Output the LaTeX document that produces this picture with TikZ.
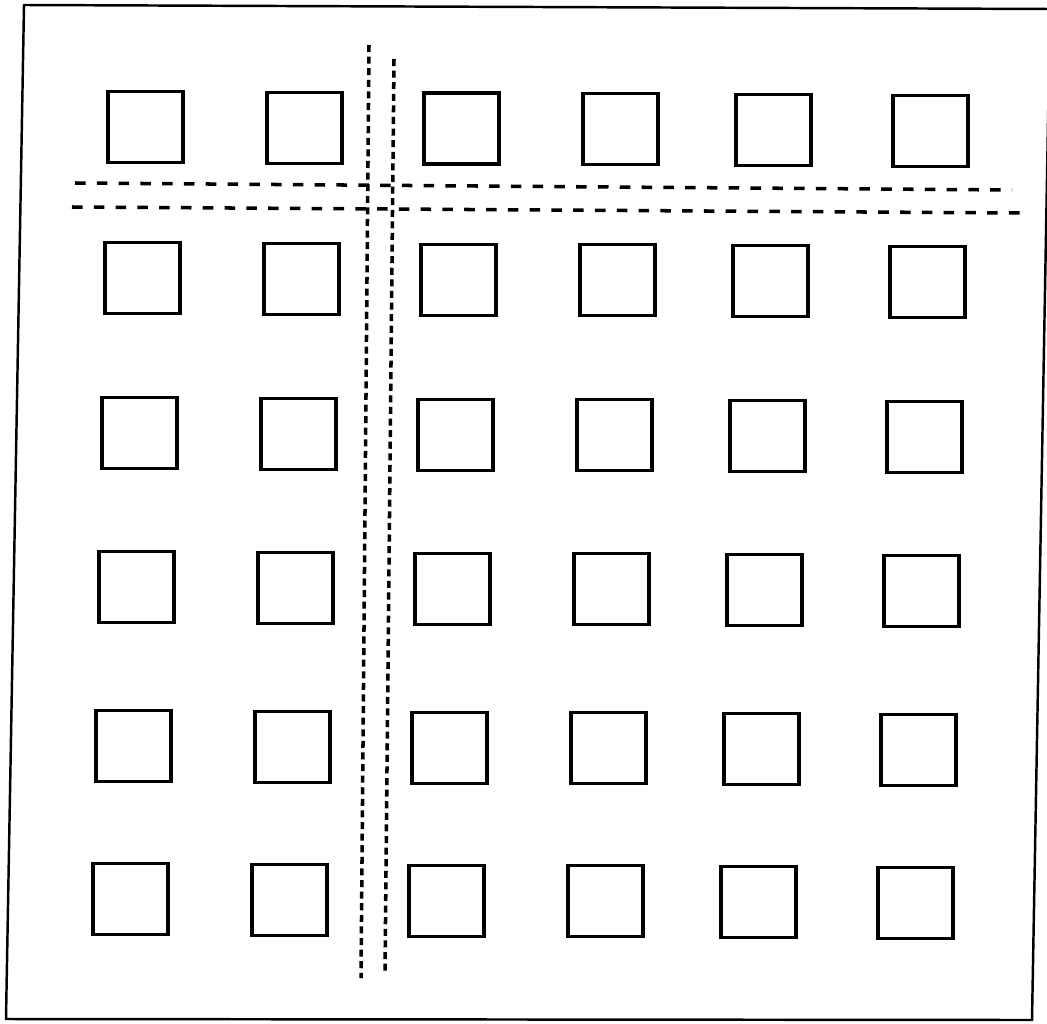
\documentclass[tikz,border=0pt]{standalone}
\usetikzlibrary{positioning}

\begin{document}
\begin{tikzpicture}[
    x=0.1mm, y=-0.1mm,
    pad/.style={rectangle, draw, minimum width=7.5mm, minimum height=7.1mm, inner sep=0pt, line width=0.9pt},
    frame/.style={line width=0.7pt},
    vcut/.style={line width=1pt, dash pattern=on 2pt off 1.3pt},
    hcut/.style={line width=1pt, dash pattern=on 3pt off 3.2pt}
]
    \useasboundingbox (0,0) rectangle (1047,1024);

    % --- OUTER FRAME ---
    \draw[frame] (24,5) -- (1050,9) -- (1032,1020) -- (6,1019) -- cycle;

    % --- PADS: 6 x 6, each row drifts a little to the left ---
    \foreach \r/\top in {1/91,2/242,3/397,4/551,5/710,6/863} {
        \foreach \c/\off in {1/0,2/159,3/316,4/475,5/628,6/785} {
            \node[pad] (S\r-\c) at ({145.5-3*(\r-1)+\off}, {\top+36+0.005*\off}) {};
        }
    }

    % --- CUT LINES ---
    \coordinate (V1-top) at (369,45);
    \coordinate (V1-bot) at (361,978);
    \coordinate (V2-top) at (394,59);
    \coordinate (V2-bot) at (385,972);
    \coordinate (H1-left) at (75,183);
    \coordinate (H1-right) at (1012,190);
    \coordinate (H2-left) at (72,207);
    \coordinate (H2-right) at (1022,213);

    \draw[vcut] (V1-top) -- (V1-bot);
    \draw[vcut] (V2-top) -- (V2-bot);
    \draw[hcut] (H1-left) -- (H1-right);
    \draw[hcut] (H2-left) -- (H2-right);

\end{tikzpicture}
\end{document}
